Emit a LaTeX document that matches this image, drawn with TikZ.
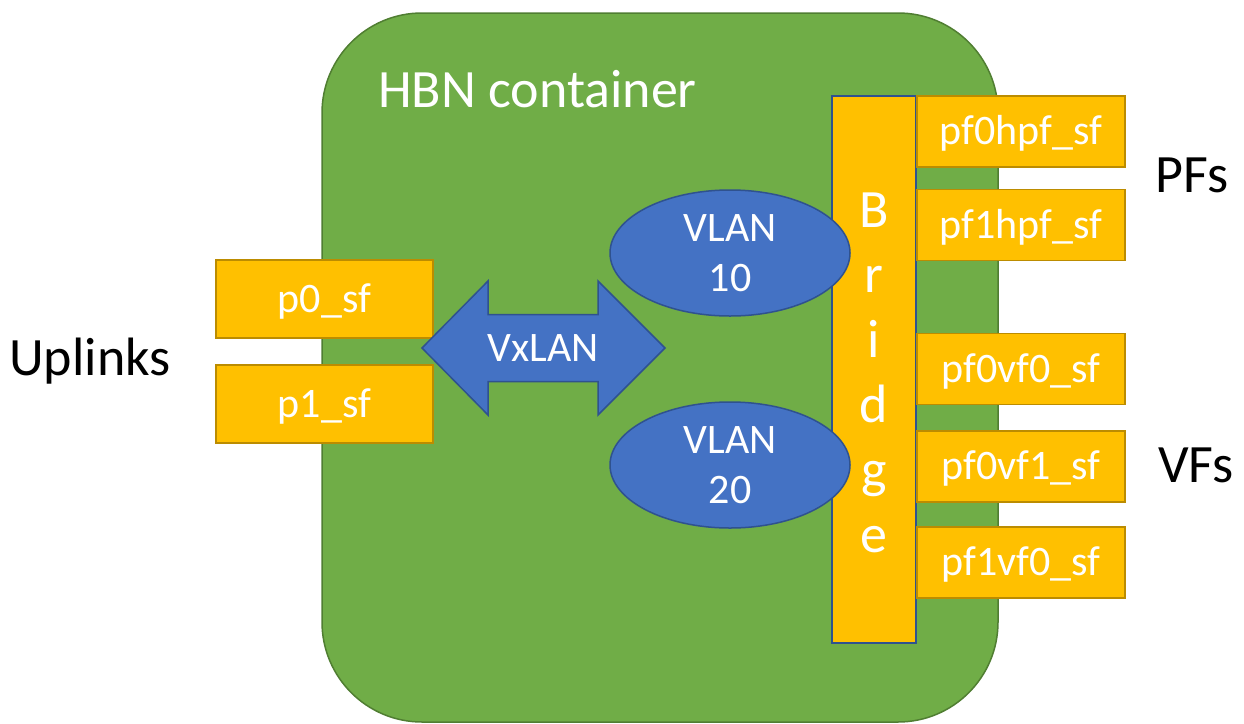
\documentclass[tikz,border=0pt]{standalone}
\usepackage{fontspec}
\setmainfont{Carlito}
\usetikzlibrary{shapes.geometric}
\definecolor{hbngreen}{HTML}{70AD47}
\definecolor{hbngreenline}{HTML}{507E32}
\definecolor{sfyellow}{HTML}{FFC000}
\definecolor{sfyellowline}{HTML}{BC8C00}
\definecolor{vlanblue}{HTML}{4472C4}
\definecolor{vlanblueline}{HTML}{2F528F}
\begin{document}
\begin{tikzpicture}[x=1pt,y=-1pt,
  container/.style={draw=hbngreenline, fill=hbngreen, line width=1.5pt, rounded corners=100pt, minimum width=676pt, minimum height=709pt, inner sep=0pt},
  sfbox/.style={draw=sfyellowline, fill=sfyellow, line width=1.5pt, inner sep=0pt, text=white, font=\fontsize{42}{50}\selectfont, text height=26.5pt, text depth=0pt},
  upbox/.style={sfbox, minimum width=217pt, minimum height=78pt},
  fnbox/.style={sfbox, minimum width=208pt, minimum height=71pt},
  vlan/.style={ellipse, draw=vlanblueline, fill=vlanblue, line width=1.5pt, minimum width=240pt, minimum height=126pt, inner sep=0pt, text=white, align=center, font=\fontsize{42}{50}\selectfont},
  bridgebox/.style={draw=vlanblueline, fill=sfyellow, line width=1.5pt, minimum width=84pt, minimum height=547pt, inner sep=0pt},
  biglabel/.style={font=\fontsize{54}{65}\selectfont, inner sep=0pt},
  arrowshape/.style={draw=vlanblueline, fill=vlanblue, line width=1.5pt, line join=miter},
  arrowtext/.style={text=white, inner sep=0pt, font=\fontsize{42}{50}\selectfont, text height=26.5pt, text depth=0pt},
]
\useasboundingbox (0,0) rectangle (1244,723);

% container
\node[container] (hbn) at (660,367.5) {};
\node[biglabel, text=white, anchor=base west] (hbnlabel) at (378,107) {HBN container};

% uplink boxes
\node[upbox] (p0) at (324.5,299) {p0\_sf};
\node[upbox] (p1) at (324.5,404) {p1\_sf};

% VxLAN double arrow
\draw[arrowshape] (422,348) -- (488,281) -- (488,314.5) -- (598,314.5) -- (598,281)
  -- (665,348) -- (598,415) -- (598,381.5) -- (488,381.5) -- (488,415) -- cycle;
\node[arrowtext] (vxlan) at (543,348) {VxLAN};

% bridge
\node[bridgebox] (bridge) at (874,369.5) {};
\node[biglabel, text=white, align=center] (bridgelabel) at (874,372.5) {B\\r\\i\\d\\g\\e};

% VLANs
\node[vlan] (vlan10) at (730,253) {VLAN\\10};
\node[vlan] (vlan20) at (730,465) {VLAN\\20};

% function boxes
\node[fnbox] (pf0hpf) at (1021,131.5) {pf0hpf\_sf};
\node[fnbox] (pf1hpf) at (1021,225) {pf1hpf\_sf};
\node[fnbox] (pf0vf0) at (1021,369) {pf0vf0\_sf};
\node[fnbox] (pf0vf1) at (1021,466.5) {pf0vf1\_sf};
\node[fnbox] (pf1vf0) at (1021,562.5) {pf1vf0\_sf};

% outside labels
\node[biglabel, anchor=base] (uplinks) at (90,375) {Uplinks};
\node[biglabel, anchor=base] (pfs) at (1192,192) {PFs};
\node[biglabel, anchor=base] (vfs) at (1196,482) {VFs};
\end{tikzpicture}
\end{document}
